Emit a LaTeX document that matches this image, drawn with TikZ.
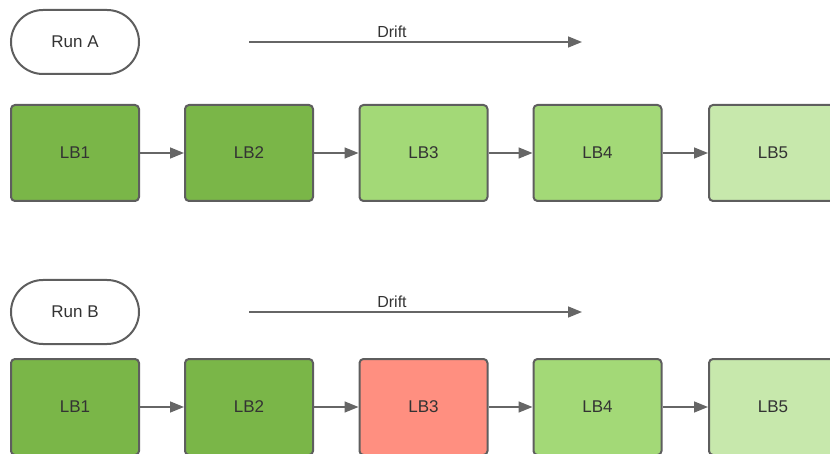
\documentclass[tikz,border=0pt]{standalone}
\usepackage{fontspec}
\setmainfont{Liberation Sans}
\usetikzlibrary{arrows.meta}
\definecolor{edgegray}{HTML}{5E5E5E}
\definecolor{linegray}{HTML}{666666}
\definecolor{txtgray}{HTML}{333333}
\definecolor{gdark}{HTML}{7AB648}
\definecolor{gmid}{HTML}{A3D977}
\definecolor{glight}{HTML}{C7E8AC}
\definecolor{rsoft}{HTML}{FF8F80}
\tikzset{
  lbbox/.style={draw=edgegray, line width=2pt, rounded corners=4pt,
    minimum width=128pt, minimum height=96pt, inner sep=0pt,
    font=\fontsize{17}{20}\selectfont, text=txtgray},
  runpill/.style={draw=edgegray, line width=2pt, rounded corners=32pt,
    minimum width=128pt, minimum height=64pt, inner sep=0pt, fill=white,
    font=\fontsize{17}{20}\selectfont, text=txtgray},
  flow/.style={draw=linegray, line width=1.5pt,
    -{Triangle[length=14pt,width=11pt]}},
  driftlbl/.style={font=\fontsize{16}{19}\selectfont, text=txtgray}
}
\begin{document}
\begin{tikzpicture}[x=1pt,y=-1pt]
  \useasboundingbox (0,0) rectangle (830,454);
  \clip (0,0) rectangle (830,454);

  % Run A
  \node[runpill] (runA) at (75,42) {Run A};
  \coordinate (dAs) at (249,42);
  \coordinate (dAe) at (582,42);
  \draw[flow] (dAs) -- (dAe);
  \node[driftlbl] (driftA) at (392,32) {Drift};

  \node[lbbox, fill=gdark]  (a1) at (75,153)    {LB1};
  \node[lbbox, fill=gdark]  (a2) at (249,153)   {LB2};
  \node[lbbox, fill=gmid]   (a3) at (423.5,153) {LB3};
  \node[lbbox, fill=gmid]   (a4) at (597.5,153) {LB4};
  \node[lbbox, fill=glight] (a5) at (773,153)   {LB5};
  \foreach \p/\q in {a1/a2,a2/a3,a3/a4,a4/a5}
    \draw[flow] (\p.east) -- (\q.west);

  % Run B
  \node[runpill] (runB) at (75,312) {Run B};
  \coordinate (dBs) at (249,312);
  \coordinate (dBe) at (582,312);
  \draw[flow] (dBs) -- (dBe);
  \node[driftlbl] (driftB) at (392,302) {Drift};

  \node[lbbox, fill=gdark]  (b1) at (75,407)    {LB1};
  \node[lbbox, fill=gdark]  (b2) at (249,407)   {LB2};
  \node[lbbox, fill=rsoft]  (b3) at (423.5,407) {LB3};
  \node[lbbox, fill=gmid]   (b4) at (597.5,407) {LB4};
  \node[lbbox, fill=glight] (b5) at (773,407)   {LB5};
  \foreach \p/\q in {b1/b2,b2/b3,b3/b4,b4/b5}
    \draw[flow] (\p.east) -- (\q.west);
\end{tikzpicture}
\end{document}
